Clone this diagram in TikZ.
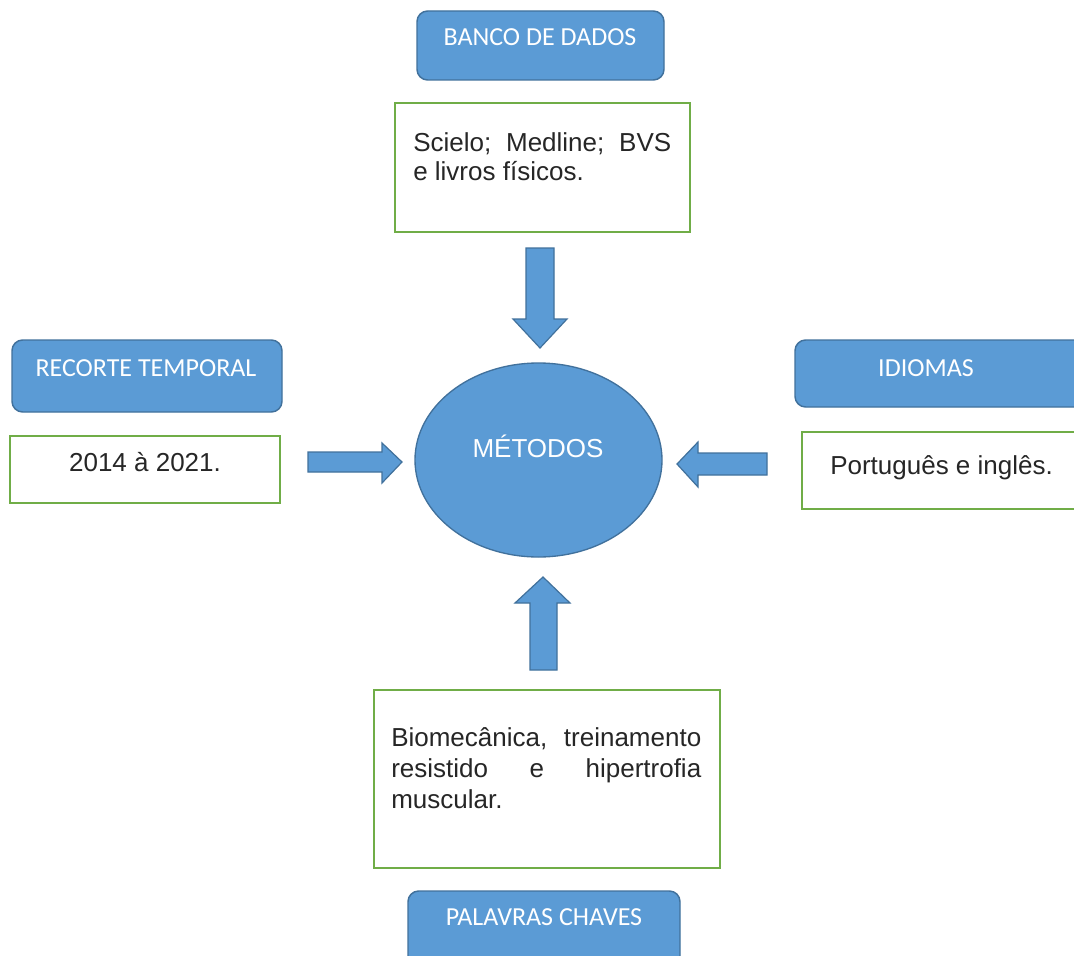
\documentclass[tikz,border=0pt]{standalone}
\usepackage{fontspec}
\setmainfont{Liberation Sans}
\newfontfamily\hdr{Carlito}
\definecolor{bfill}{HTML}{5B9BD5}
\definecolor{bline}{HTML}{41719C}
\definecolor{gline}{HTML}{70AD47}
\begin{document}
\begin{tikzpicture}[x=0.75pt,y=-0.75pt,
  hdrbox/.style={draw=bline, fill=bfill, line width=1.1pt, rounded corners=8pt, anchor=north west, inner sep=0pt, outer sep=0pt},
  txtbox/.style={draw=gline, line width=1pt, anchor=north west, inner sep=0pt, outer sep=0pt},
  hdrtext/.style={font=\hdr\fontsize{19.5}{22}\selectfont, text=white, inner sep=0pt, anchor=base},
  bodytext/.style={font=\fontsize{19.5}{22}\selectfont, text=black!85, inner sep=0pt, anchor=base west},
  blockarrow/.style={draw=bline, fill=bfill, line width=0.9pt, line join=miter}]
\useasboundingbox (0,0) rectangle (1074,956);
\clip (0,0) rectangle (1074,956);
\fill[white] (0,0) rectangle (1074,956);

% header boxes
\node[hdrbox, minimum width=185.25pt, minimum height=51.75pt] (banco) at (417,11) {};
\node[hdrbox, minimum width=202.5pt, minimum height=54pt] (recorte) at (12,340) {};
\node[hdrbox, minimum width=225pt, minimum height=50.25pt] (idiomas) at (795,340) {};
\node[hdrbox, minimum width=204pt, minimum height=60pt] (palavras) at (408,891) {};

\node[hdrtext] (tbanco) at (540,46) {BANCO DE DADOS};
\node[hdrtext] (trecorte) at (146,376) {RECORTE TEMPORAL};
\node[hdrtext] (tidiomas) at (926,376) {IDIOMAS};
\node[hdrtext] (tpalavras) at (544,925) {PALAVRAS CHAVES};

% text boxes
\node[txtbox, minimum width=221.25pt, minimum height=96.75pt] (bases) at (395,103) {};
\node[txtbox, minimum width=202.5pt, minimum height=50.25pt] (periodo) at (10,436) {};
\node[txtbox, minimum width=217.5pt, minimum height=57.75pt] (linguas) at (802,432) {};
\node[txtbox, minimum width=259.5pt, minimum height=133.5pt] (chaves) at (374,690) {};

\node[bodytext] (s1) at (413,151) {\hbox to 193.5pt{Scielo;\hfill Medline;\hfill BVS}};
\node[bodytext] (s2) at (413,180) {e livros físicos.};
\node[bodytext, anchor=base] (p1) at (145,471) {2014 à 2021.};
\node[bodytext] (l1) at (830,474) {Português e inglês.};
\node[bodytext] (k1) at (391,746) {\hbox to 232.5pt{Biomecânica,\hfill treinamento}};
\node[bodytext] (k2) at (391,777) {\hbox to 232.5pt{resistido\hfill e\hfill hipertrofia}};
\node[bodytext] (k3) at (391,808) {muscular.};

% central ellipse
\draw[draw=bline, fill=bfill, line width=1pt] (538.5,460) ellipse [x radius=123.5, y radius=97];
\coordinate (metodos) at (538.5,460);
\node[font=\fontsize{19.5}{22}\selectfont, text=white, inner sep=0pt, anchor=base] (tmetodos) at (538,457) {MÉTODOS};

% block arrows
\draw[blockarrow] (526,248) -- (554,248) -- (554,319) -- (567,319) -- (540,348) -- (513,319) -- (526,319) -- cycle;
\draw[blockarrow] (530,670) -- (557,670) -- (557,603) -- (570,603) -- (543,577) -- (515,603) -- (530,603) -- cycle;
\draw[blockarrow] (308,452) -- (382,452) -- (382,443) -- (402,462) -- (382,483) -- (382,472) -- (308,472) -- cycle;
\draw[blockarrow] (767,453) -- (698,453) -- (698,442) -- (677,464) -- (698,487) -- (698,475) -- (767,475) -- cycle;
\end{tikzpicture}
\end{document}
